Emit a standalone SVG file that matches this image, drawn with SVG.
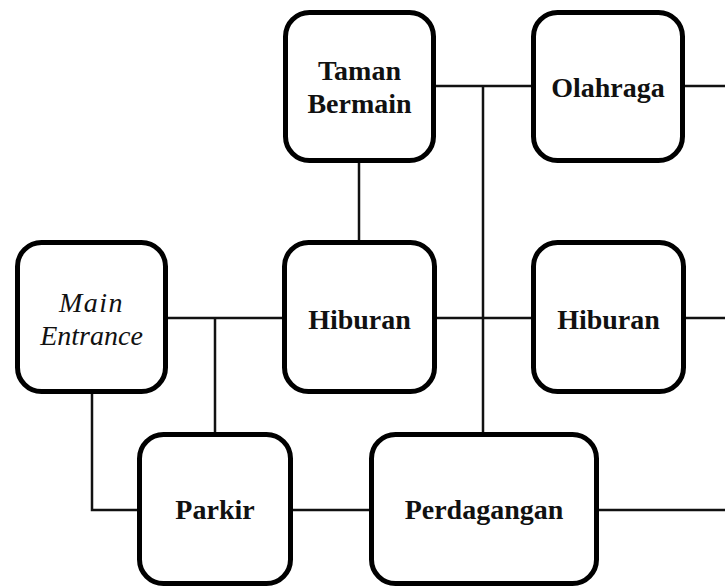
<svg xmlns="http://www.w3.org/2000/svg" width="725" height="588" viewBox="0 0 725 588">
<style>
.box{fill:#fff;stroke:#000;stroke-width:5}
.ln{stroke:#111;stroke-width:2.5;fill:none}
.t{font-family:"Liberation Serif","Times New Roman",serif;font-weight:bold;font-size:28px;text-anchor:middle;fill:#111}
.i{font-family:"Liberation Serif","Times New Roman",serif;font-style:italic;font-size:28px;text-anchor:middle;fill:#111}
</style>
<rect width="725" height="588" fill="#fff"/>
<g id="connectors">
<path class="ln" d="M436 86H531M685 86H725M483 86V432"/>
<path class="ln" d="M359 163V240"/>
<path class="ln" d="M168 318H282M215 318V432M437 318H531M686 318H725"/>
<path class="ln" d="M92 394V510H137M293 510H369M599 510H725"/>
</g>
<g id="taman"><rect class="box" x="285.5" y="12.5" width="148" height="148" rx="24"/><text class="t" x="359.5" y="80">Taman</text><text class="t" x="359.5" y="113">Bermain</text></g>
<g id="olahraga"><rect class="box" x="533.5" y="12.5" width="149" height="148" rx="24"/><text class="t" x="608" y="97">Olahraga</text></g>
<g id="main"><rect class="box" x="17.5" y="242.5" width="148" height="149" rx="24"/><text class="i" x="91.5" y="312" letter-spacing="1.5">Main</text><text class="i" x="91.5" y="345">Entrance</text></g>
<g id="hiburan1"><rect class="box" x="284.5" y="242.5" width="150" height="149" rx="24"/><text class="t" x="359.5" y="329">Hiburan</text></g>
<g id="hiburan2"><rect class="box" x="533.5" y="242.5" width="150" height="149" rx="24"/><text class="t" x="608.5" y="329">Hiburan</text></g>
<g id="parkir"><rect class="box" x="139.5" y="434.5" width="151" height="149" rx="24"/><text class="t" x="215" y="519">Parkir</text></g>
<g id="perdagangan"><rect class="box" x="371.5" y="434.5" width="225" height="149" rx="24"/><text class="t" x="484" y="519">Perdagangan</text></g>
</svg>
